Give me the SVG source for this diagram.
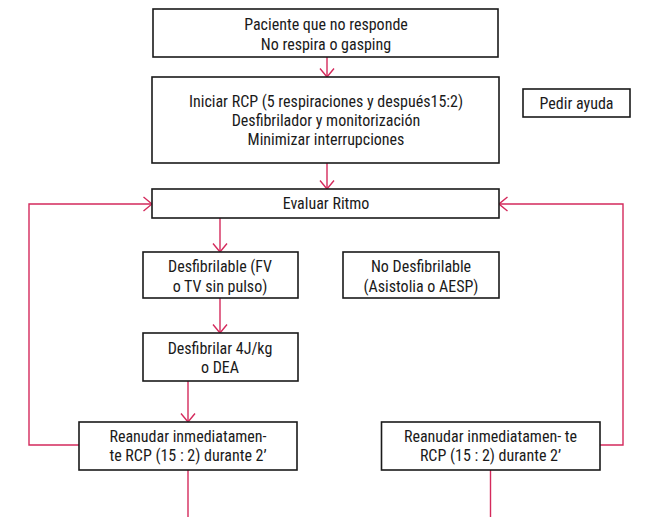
<svg xmlns="http://www.w3.org/2000/svg" width="645" height="517" viewBox="0 0 645 517">
  <style>
    .box { fill: #ffffff; stroke: #1a1a1a; stroke-width: 1.6; }
    .lbl { font-family: "Liberation Sans Narrow", "Roboto Condensed", "Liberation Sans", sans-serif; font-stretch: condensed; font-size: 16px; fill: #1a1a1a; text-anchor: middle; }
    .conn { fill: none; stroke: #d42a5c; stroke-width: 1.4; }
  </style>
  <defs>
    <marker id="open" viewBox="0 0 10 16" refX="9.5" refY="8" markerWidth="10" markerHeight="16" markerUnits="userSpaceOnUse" orient="auto">
      <path d="M1,1 L9.5,8 L1,15" fill="none" stroke="#d42a5c" stroke-width="1.4"/>
    </marker>
  </defs>
  <rect width="645" height="517" fill="#ffffff"/>

  <g id="connectors">
    <line class="conn" x1="327" y1="57" x2="327" y2="77" marker-end="url(#open)"/>
    <line class="conn" x1="327" y1="163" x2="327" y2="189" marker-end="url(#open)"/>
    <line class="conn" x1="220" y1="218" x2="220" y2="252" marker-end="url(#open)"/>
    <line class="conn" x1="220" y1="298" x2="220" y2="333" marker-end="url(#open)"/>
    <line class="conn" x1="188" y1="381" x2="188" y2="422" marker-end="url(#open)"/>
    <polyline class="conn" points="79,445 29,445 29,204 152,204" marker-end="url(#open)"/>
    <polyline class="conn" points="600,445 623,445 623,204 499,204" marker-end="url(#open)"/>
    <line class="conn" x1="188" y1="470" x2="188" y2="517"/>
    <line class="conn" x1="490.5" y1="470" x2="490.5" y2="517"/>
  </g>

  <g id="node-paciente">
    <rect class="box" x="153" y="9" width="345" height="48"/>
    <text class="lbl" x="326" y="29.5">Paciente que no responde</text>
    <text class="lbl" x="326" y="49.5">No respira o gasping</text>
  </g>

  <g id="node-iniciar">
    <rect class="box" x="152" y="77" width="347" height="86"/>
    <text class="lbl" x="326" y="107">Iniciar RCP (5 respiraciones y después15:2)</text>
    <text class="lbl" x="326" y="126">Desfibrilador y monitorización</text>
    <text class="lbl" x="326" y="145">Minimizar interrupciones</text>
  </g>

  <g id="node-ayuda">
    <rect class="box" x="523" y="89" width="107" height="28"/>
    <text class="lbl" x="576.5" y="109">Pedir ayuda</text>
  </g>

  <g id="node-evaluar">
    <rect class="box" x="152" y="189" width="347" height="29"/>
    <text class="lbl" x="326" y="209">Evaluar Ritmo</text>
  </g>

  <g id="node-desfibrilable">
    <rect class="box" x="143" y="252" width="155" height="46"/>
    <text class="lbl" x="220" y="272">Desfibrilable (FV</text>
    <text class="lbl" x="220" y="292">o TV sin pulso)</text>
  </g>

  <g id="node-no-desfibrilable">
    <rect class="box" x="343" y="252" width="156" height="46"/>
    <text class="lbl" x="421" y="272">No Desfibrilable</text>
    <text class="lbl" x="421" y="292">(Asistolia o AESP)</text>
  </g>

  <g id="node-desfibrilar">
    <rect class="box" x="143" y="333" width="155" height="48"/>
    <text class="lbl" x="220" y="354">Desfibrilar 4J/kg</text>
    <text class="lbl" x="220" y="373">o DEA</text>
  </g>

  <g id="node-reanudar-izq">
    <rect class="box" x="79" y="422" width="218" height="48"/>
    <text class="lbl" x="188" y="442">Reanudar inmediatamen-</text>
    <text class="lbl" x="188" y="461">te RCP (15 : 2) durante 2’</text>
  </g>

  <g id="node-reanudar-der">
    <rect class="box" x="381.5" y="422" width="218.5" height="48"/>
    <text class="lbl" x="490.5" y="442">Reanudar inmediatamen- te</text>
    <text class="lbl" x="490.5" y="461">RCP (15 : 2) durante 2’</text>
  </g>
</svg>
